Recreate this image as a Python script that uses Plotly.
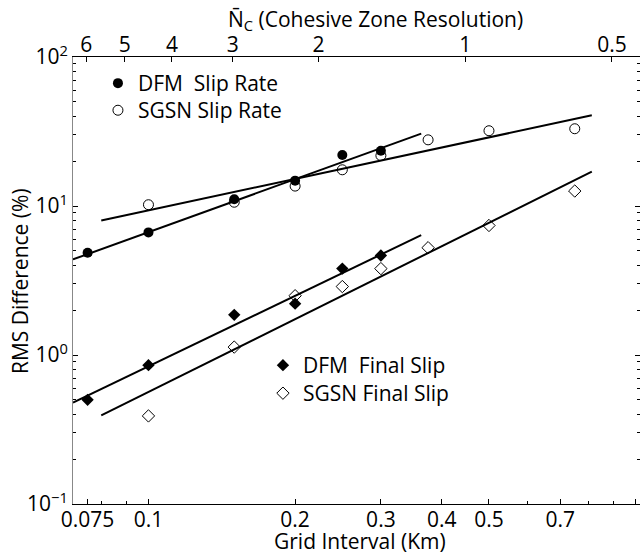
import plotly.graph_objects as go
import numpy as np

# ---- data ----
grid_dfm = [0.075, 0.1, 0.15, 0.2, 0.25, 0.3]
dfm_slip_rate = [4.85, 6.65, 11.1, 14.8, 22.0, 23.5]
grid_sgsn = [0.1, 0.15, 0.2, 0.25, 0.3, 0.375, 0.5, 0.75]
sgsn_slip_rate = [10.2, 10.6, 13.6, 17.5, 21.8, 27.8, 32.0, 33.0]
dfm_final_slip = [0.50, 0.855, 1.86, 2.21, 3.8, 4.65]
sgsn_final_slip = [0.39, 1.13, 2.5, 2.88, 3.8, 5.25, 7.4, 12.6]

# fitted lines (end points)
fit_dfm_rate_x = [0.07, 0.363]
fit_dfm_rate_y = [4.38, 30.6]
fit_sgsn_rate_x = [0.080, 0.813]
fit_sgsn_rate_y = [8.0, 40.6]
fit_dfm_final_x = [0.07, 0.363]
fit_dfm_final_y = [0.48, 6.37]
fit_sgsn_final_x = [0.080, 0.813]
fit_sgsn_final_y = [0.393, 17.0]

x_ticks = [0.075, 0.1, 0.2, 0.3, 0.4, 0.5, 0.7, 1]
x_ticktext = ["0.075", "0.1", "0.2", "0.3", "0.4", "0.5", "0.7", "1"]
y_ticks = [0.1, 1, 10, 100]
y_ticktext = ["10<sup>\u22121</sup>", "10<sup>0</sup>", "10<sup>1</sup>", "10<sup>2</sup>"]
nc_ticks = [6, 5, 4, 3, 2, 1, 0.5]
nc_scale = 0.447  # grid interval (km) * Nc

FONT = "Open Sans"
FS = 21
fig = go.Figure()

line_style = dict(color="black", width=2)
for fx, fy in [(fit_dfm_rate_x, fit_dfm_rate_y), (fit_sgsn_rate_x, fit_sgsn_rate_y),
               (fit_dfm_final_x, fit_dfm_final_y), (fit_sgsn_final_x, fit_sgsn_final_y)]:
    fig.add_trace(go.Scatter(x=fx, y=fy, mode="lines", line=line_style, showlegend=False, hoverinfo="skip"))

fig.add_trace(go.Scatter(x=grid_dfm, y=dfm_slip_rate, mode="markers", name="DFM\u00a0\u00a0Slip Rate",
                         marker=dict(symbol="circle", size=10, color="black"), legend="legend"))
fig.add_trace(go.Scatter(x=grid_sgsn, y=sgsn_slip_rate, mode="markers", name="SGSN Slip Rate",
                         marker=dict(symbol="circle-open", size=10, color="black", line=dict(width=1)), legend="legend2"))
fig.add_trace(go.Scatter(x=grid_dfm, y=dfm_final_slip, mode="markers", name="DFM\u00a0\u00a0Final Slip",
                         marker=dict(symbol="diamond", size=9.5, color="black"), legend="legend3"))
fig.add_trace(go.Scatter(x=grid_sgsn, y=sgsn_final_slip, mode="markers", name="SGSN Final Slip",
                         marker=dict(symbol="diamond-open", size=9.5, color="black", line=dict(width=1)), legend="legend4"))

xr = [np.log10(0.07), 0.009]
yr = [-1, 2]

def leg(x, y):
    return dict(x=x, y=y, xanchor="left", yanchor="top", bgcolor="rgba(0,0,0,0)",
                font=dict(size=FS), itemwidth=30, borderwidth=0)

fig.update_layout(
    width=640, height=554,
    margin=dict(l=73, r=0, t=57, b=50),
    paper_bgcolor="white", plot_bgcolor="white",
    font=dict(family=FONT, size=FS, color="black"),
    xaxis=dict(type="log", range=xr, tickvals=x_ticks, ticktext=x_ticktext, automargin=False,
               ticks="inside", ticklen=5, tickcolor="black", showline=True, linecolor="black", linewidth=1,
               showgrid=False, zeroline=False, tickfont=dict(size=FS), ticklabelstandoff=-3,
               minor=dict(tickvals=[0.08, 0.09, 0.6, 0.8, 0.9], ticks="inside", ticklen=3, tickcolor="black")),
    xaxis2=dict(type="log", range=xr, overlaying="x", side="top", anchor="y", automargin=False,
                tickvals=[nc_scale / n for n in nc_ticks], ticktext=[str(n) for n in nc_ticks],
                ticks="inside", ticklen=5, tickcolor="black", showline=True, linecolor="black", linewidth=1,
                showgrid=False, zeroline=False, tickfont=dict(size=FS), ticklabelstandoff=-4),
    yaxis=dict(type="log", range=yr, tickvals=y_ticks, ticktext=y_ticktext, automargin=False,
               ticks="inside", ticklen=5, tickcolor="black", showline=True, linecolor="#888", linewidth=1,
               showgrid=False, zeroline=False, tickfont=dict(size=FS),
               minor=dict(dtick="D1", ticks="inside", ticklen=3, tickcolor="black")),
    yaxis2=dict(type="log", range=yr, tickvals=y_ticks, overlaying="y", side="right", anchor="x",
                ticks="inside", ticklen=5, tickcolor="black", showline=False, showticklabels=False,
                showgrid=False, zeroline=False, automargin=False,
                minor=dict(dtick="D1", ticks="inside", ticklen=3, tickcolor="black")),
    legend=leg(0.044, 0.9866),
    legend2=leg(0.044, 0.926),
    legend3=leg(0.335, 0.3557),
    legend4=leg(0.335, 0.293),
    annotations=[
        dict(text="Grid Interval (Km)", xref="paper", yref="paper", x=(360 - 73) / 567, y=-(541 - 504) / 447,
             xanchor="center", yanchor="middle", showarrow=False, font=dict(size=FS)),
        dict(text="RMS Difference (%)", xref="paper", yref="paper", x=-(73 - 20) / 567, y=(504 - 281) / 447,
             xanchor="center", yanchor="middle", textangle=-90, showarrow=False, font=dict(size=FS)),
        dict(text="N\u0304<sub>C</sub> (Cohesive Zone Resolution)", xref="paper", yref="paper",
             x=(375 - 73) / 567, y=(504 - 20) / 447,
             xanchor="center", yanchor="middle", showarrow=False, font=dict(size=FS)),
    ],
)
# invisible trace so the secondary axes render
fig.add_trace(go.Scatter(x=[0.1], y=[1], xaxis="x2", yaxis="y2", mode="markers",
                         marker=dict(opacity=0), showlegend=False, hoverinfo="skip"))

fig.write_html("out.html")
